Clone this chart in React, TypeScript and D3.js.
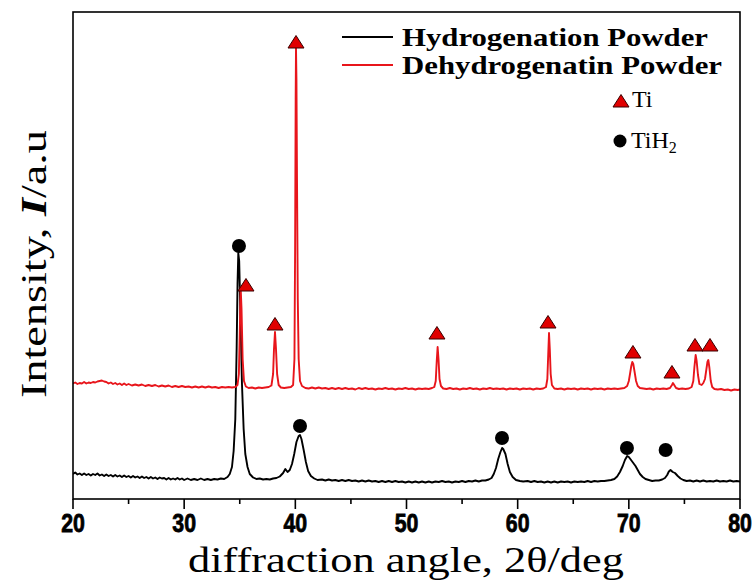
import React from "react";
import * as d3 from "d3";

// Diffraction traces: [2θ (deg), intensity (a.u.)]
const hydrogenationTrace: [number, number][] = [
  [20.0,25],[20.2,26.5],[20.4,24.5],[20.6,25.5],[20.8,24],[21.0,25.5],[21.2,24],[21.4,25],[21.6,23.5],[21.8,25],
  [22.0,24],[22.2,25.5],[22.4,23.5],[22.6,24.5],[22.8,23],[23.0,24.5],[23.2,23],[23.4,24],[23.6,22.5],[23.8,24],
  [24.0,22.5],[24.2,23.5],[24.4,22],[24.6,23.5],[24.8,22],[25.0,23],[25.2,21.5],[25.4,23],[25.6,21.5],[25.8,22.5],
  [26.0,21],[26.2,22.5],[26.4,21],[26.6,22],[26.8,20.5],[27.0,22],[27.2,20.5],[27.4,21.5],[27.6,20],[27.8,21.5],
  [28.0,20.5],[28.2,21],[28.4,19.5],[28.6,21],[28.8,19.5],[29.0,20.5],[29.2,19.5],[29.4,21],[29.6,19.5],[29.8,20.5],
  [30.0,19],[30.3,20.5],[30.6,19],[30.9,20],[31.2,19],[31.5,20.5],[31.8,19],[32.1,20],[32.4,19],[32.7,20],
  [33.0,19.5],[33.3,20.5],[33.6,20],[33.9,22],[34.1,25],[34.3,32],[34.45,48],[34.6,80],[34.72,150],[34.8,215],
  [34.87,246],[34.95,238],[35.05,190],[35.2,115],[35.35,70],[35.5,45],[35.7,32],[35.9,25],[36.2,21.5],[36.5,20],
  [36.8,20.5],[37.1,19.5],[37.4,20],[37.7,19.5],[38.0,20.5],[38.3,21],[38.6,22.5],[38.9,26],[39.1,30],[39.3,27],
  [39.5,29],[39.7,35],[39.9,45],[40.1,57],[40.3,63],[40.42,64],[40.55,60],[40.75,49],[40.95,37],[41.15,28],
  [41.4,23],[41.7,20.5],[42.0,19],[42.4,19.5],[42.7,18.5],[43.0,19.5],[43.3,18.5],[43.6,19],[43.9,18],[44.2,19],
  [44.5,18],[44.8,19],[45.1,18],[45.4,18.5],[45.7,17.5],[46.0,18.5],[46.3,17.5],[46.6,18.5],[46.9,17.5],[47.2,18],
  [47.5,17],[47.8,18],[48.1,17],[48.4,18],[48.7,17],[49.0,18],[49.3,17],[49.6,17.5],[49.9,16.5],[50.2,17.5],
  [50.5,16.5],[50.8,17.5],[51.1,16.5],[51.4,17.5],[51.7,16.5],[52.0,17.5],[52.3,16.5],[52.6,17.5],[52.9,17],[53.2,18],
  [53.5,17],[53.8,17.5],[54.1,16.5],[54.4,17.5],[54.7,17],[55.0,18],[55.3,17],[55.6,18],[55.9,17.5],[56.2,18.5],
  [56.5,17.5],[56.8,18.5],[57.1,18.5],[57.4,19.5],[57.65,21],[57.85,25],[58.05,31],[58.25,40],[58.45,47],[58.6,51],
  [58.7,50],[58.9,45],[59.1,35],[59.3,27],[59.55,22],[59.85,19],[60.2,18],[60.5,17.5],[60.9,18],[61.2,17],
  [61.5,18],[61.8,17],[62.1,17.5],[62.4,16.5],[62.7,17.5],[63.0,16.5],[63.3,17.5],[63.6,16.5],[63.9,17.5],[64.2,17],
  [64.5,17.5],[64.8,16.5],[65.1,17.5],[65.4,17],[65.7,17.5],[66.0,17],[66.3,18],[66.6,17],[66.9,18],[67.2,17.5],
  [67.5,18],[67.8,18],[68.1,18.5],[68.4,19],[68.7,20],[68.95,22.5],[69.2,27],[69.45,33],[69.65,39],[69.85,43],
  [70.0,42],[70.2,39],[70.4,36],[70.6,33],[70.8,29],[71.0,25],[71.25,22],[71.5,20],[71.8,19],[72.1,18],
  [72.4,18.5],[72.7,18.5],[73.0,19.5],[73.25,21],[73.45,24],[73.6,27.5],[73.75,29],[73.95,27],[74.15,26],[74.4,23],
  [74.65,20.5],[74.9,19],[75.2,18],[75.5,18.5],[75.8,17.5],[76.1,18.5],[76.4,17.5],[76.7,18.5],[77.0,17.5],[77.3,18],
  [77.6,17.5],[77.9,18.5],[78.2,17.5],[78.5,18],[78.8,17.5],[79.1,18.5],[79.4,17.5],[79.7,18],[80.0,17.5],
];

const dehydrogenationTrace: [number, number][] = [
  [20.0,115.5],[20.2,116.5],[20.4,115],[20.6,116],[20.8,115.5],[21.0,117],[21.2,115.5],[21.4,116.5],[21.6,116],[21.8,117],
  [22.0,116.5],[22.2,117.5],[22.4,118],[22.6,118.5],[22.8,117.5],[23.0,117],[23.2,115.5],[23.4,116.5],[23.6,115],[23.8,116],
  [24.0,114.5],[24.2,115.5],[24.4,114],[24.6,115.5],[24.8,114],[25.0,115],[25.3,113.5],[25.6,114.5],[25.9,113.5],[26.2,114.5],
  [26.5,113],[26.8,114],[27.1,113],[27.4,114],[27.7,112.5],[28.0,113.5],[28.3,112.5],[28.6,113.5],[28.9,112],[29.2,113],
  [29.5,112],[29.8,113],[30.1,112],[30.4,112.5],[30.7,111.5],[31.0,112.5],[31.3,111.5],[31.6,112.5],[31.9,111.5],[32.2,112.5],
  [32.5,111.5],[32.8,112],[33.1,111],[33.4,112],[33.7,111.5],[34.0,112],[34.3,111.5],[34.6,112],[34.8,114],[34.92,125],
  [35.0,165],[35.08,212],[35.16,190],[35.26,140],[35.38,118],[35.55,112.5],[35.8,111],[36.1,111.5],[36.4,110.5],[36.7,111.5],
  [37.0,111],[37.3,111.5],[37.6,112],[37.85,113.5],[38.0,125],[38.08,150],[38.17,167],[38.26,150],[38.36,125],[38.5,114],
  [38.7,111.5],[39.0,111],[39.3,111.5],[39.6,112],[39.8,114],[39.92,140],[39.98,250],[40.03,400],[40.06,451],[40.1,420],
  [40.15,320],[40.22,200],[40.3,140],[40.42,118],[40.6,113],[40.9,111],[41.2,110.5],[41.5,111.5],[41.8,110.5],[42.1,111.5],
  [42.4,110.5],[42.7,111],[43.0,110],[43.3,111],[43.6,110],[43.9,111],[44.2,110],[44.5,111],[44.8,110],[45.1,110.5],
  [45.4,109.5],[45.7,111],[46.0,110],[46.3,111],[46.6,110],[46.9,110.5],[47.2,109.5],[47.5,110.5],[47.8,110],[48.1,111],
  [48.4,110],[48.7,110.5],[49.0,109.5],[49.3,110.5],[49.6,110],[49.9,111],[50.2,110],[50.5,110.5],[50.8,109.5],[51.1,110.5],
  [51.4,110],[51.7,110.5],[52.0,110],[52.3,111],[52.5,112],[52.63,118],[52.72,138],[52.8,152],[52.88,140],[52.97,120],
  [53.1,113],[53.3,110.5],[53.6,110],[53.9,111],[54.2,110],[54.5,110.5],[54.8,109.5],[55.1,110.5],[55.4,110],[55.7,111],
  [56.0,110],[56.3,110.5],[56.6,109.5],[56.9,110.5],[57.2,110],[57.5,111],[57.8,110],[58.1,110.5],[58.4,110],[58.7,110.5],
  [59.0,109.5],[59.3,110.5],[59.6,110],[59.9,110.5],[60.2,109.5],[60.5,110.5],[60.8,110],[61.1,110.5],[61.4,109.5],[61.7,110.5],
  [62.0,110],[62.3,110.5],[62.55,112],[62.67,120],[62.75,145],[62.82,166],[62.89,150],[62.97,125],[63.08,114],[63.3,110.5],
  [63.6,110],[63.9,110.5],[64.2,109.5],[64.5,110.5],[64.8,110],[65.1,110.5],[65.4,109.5],[65.7,110.5],[66.0,110],[66.3,110.5],
  [66.6,109.5],[66.9,110.5],[67.2,110],[67.5,110.5],[67.8,109.5],[68.1,110.5],[68.4,110],[68.7,110.5],[69.0,110],[69.3,110.5],
  [69.6,111],[69.85,113],[70.0,118],[70.12,126],[70.22,133],[70.31,137],[70.4,135],[70.52,127],[70.65,118],[70.8,113],
  [71.0,111],[71.3,110.5],[71.6,110],[71.9,110.5],[72.2,109.5],[72.5,110.5],[72.8,110],[73.1,110.5],[73.4,110],[73.7,111],
  [73.88,114],[73.97,116],[74.08,114],[74.25,111],[74.5,110],[74.8,110.5],[75.1,110],[75.4,110.5],[75.65,112],[75.8,118],
  [75.9,132],[76.01,144],[76.1,138],[76.22,124],[76.35,115],[76.55,114],[76.7,116],[76.85,120],[76.98,130],[77.07,137],
  [77.15,139],[77.25,131],[77.37,118],[77.5,112],[77.7,110],[78.0,109.5],[78.3,110],[78.6,109],[78.9,109.5],[79.2,108.5],
  [79.5,109.5],[79.8,109],[80.0,109.5],
];

// Phase markers: [2θ (deg), marker height (a.u.)]
const tiPeaks: [number, number][] = [
  [35.56,214],[38.17,175],[40.06,457],[52.74,166],[62.73,177],[70.37,147],[73.88,127],[75.95,154],[77.3,154],
];
const tiH2Peaks: [number, number][] = [
  [34.93,253],[40.42,73],[58.59,61],[69.83,51],[73.31,49],
];

const xMajorTicks = [20, 30, 40, 50, 60, 70, 80];
const xMinorTicks = [25, 35, 45, 55, 65, 75];

const seriesNames = ["Hydrogenation Powder", "Dehydrogenatin Powder"];
const seriesColors = ["#000000", "#e8151b"];

const W = 755;
const H = 580;
const left = 73;
const right = 740;
const top = 12;
const bottom = 499;

export default function App() {
  const x = d3.scaleLinear().domain([20, 80]).range([left, right]);
  const y = d3.scaleLinear().domain([0, 487]).range([bottom, top]);
  const line = d3
    .line<[number, number]>()
    .x((d) => x(d[0]))
    .y((d) => y(d[1]));

  const serif = "'Liberation Serif', 'Times New Roman', serif";
  const tri = (cx: number, cy: number) =>
    `M${cx},${cy - 6.5}L${cx + 8},${cy + 6}L${cx - 8},${cy + 6}Z`;

  return (
    <svg
      width={W}
      height={H}
      viewBox={`0 0 ${W} ${H}`}
      style={{ position: "absolute", left: 0, top: 0, background: "#fff" }}
    >
      <rect x={0} y={0} width={W} height={H} fill="#fff" />
      <defs>
        <clipPath id="plot-clip">
          <rect x={left} y={top} width={right - left} height={bottom - top} />
        </clipPath>
      </defs>

      <g clipPath="url(#plot-clip)" fill="none" strokeLinejoin="round">
        <path d={line(hydrogenationTrace) || ""} stroke={seriesColors[0]} strokeWidth={1.9} />
        <path d={line(dehydrogenationTrace) || ""} stroke={seriesColors[1]} strokeWidth={1.9} />
      </g>

      {/* phase markers */}
      {tiPeaks.map(([a, v], i) => (
        <path key={`ti${i}`} d={tri(x(a), y(v))} fill="#e00000" stroke="#3a0000" strokeWidth={1} />
      ))}
      {tiH2Peaks.map(([a, v], i) => (
        <circle key={`th${i}`} cx={x(a)} cy={y(v)} r={7} fill="#000" />
      ))}

      {/* frame */}
      <rect x={left} y={top} width={right - left} height={bottom - top} fill="none" stroke="#000" strokeWidth={1.6} />

      {/* x ticks */}
      {xMajorTicks.map((t) => (
        <line key={`M${t}`} x1={x(t)} x2={x(t)} y1={bottom} y2={bottom + 10} stroke="#000" strokeWidth={1.6} />
      ))}
      {xMinorTicks.map((t) => (
        <line key={`m${t}`} x1={x(t)} x2={x(t)} y1={bottom} y2={bottom + 5} stroke="#000" strokeWidth={1.6} />
      ))}
      {xMajorTicks.map((t) => (
        <text
          key={`l${t}`}
          transform={`translate(${x(t)},${532}) scale(0.82,1)`}
          textAnchor="middle"
          fontFamily="'Liberation Sans', Arial, sans-serif"
          fontWeight="bold"
          fontSize={26}
          stroke="#000"
          strokeWidth={0.8}
          fill="#000"
        >
          {t}
        </text>
      ))}

      {/* axis titles */}
      <text
        x={406}
        y={572}
        textAnchor="middle"
        fontFamily={serif}
        fontSize={35}
        textLength={436}
        lengthAdjust="spacingAndGlyphs"
        fill="#000"
      >
        diffraction angle, 2θ/deg
      </text>
      <text
        transform={`translate(46,264) rotate(-90)`}
        textAnchor="middle"
        fontFamily={serif}
        fontSize={35}
        textLength={268}
        lengthAdjust="spacingAndGlyphs"
        fill="#000"
      >
        Intensity, <tspan fontStyle="italic" fontWeight="bold">I</tspan>/a.u
      </text>

      {/* legend */}
      {seriesNames.map((name, i) => (
        <g key={name}>
          <line x1={342} x2={393} y1={37 + i * 28} y2={37 + i * 28} stroke={seriesColors[i]} strokeWidth={2} />
          <text
            x={402}
            y={46 + i * 28}
            fontFamily={serif}
            fontWeight="bold"
            fontSize={25}
            textLength={i === 0 ? 306 : 320}
            lengthAdjust="spacingAndGlyphs"
            fill="#000"
          >
            {name}
          </text>
        </g>
      ))}
      <path d={tri(621, 101)} fill="#e00000" stroke="#3a0000" strokeWidth={1} />
      <text x={632} y={107} fontFamily={serif} fontSize={24} fill="#000">
        Ti
      </text>
      <circle cx={620} cy={141} r={6.5} fill="#000" />
      <text x={631} y={148} fontFamily={serif} fontSize={24} fill="#000">
        TiH<tspan fontSize={16} dy={5}>2</tspan>
      </text>
    </svg>
  );
}
